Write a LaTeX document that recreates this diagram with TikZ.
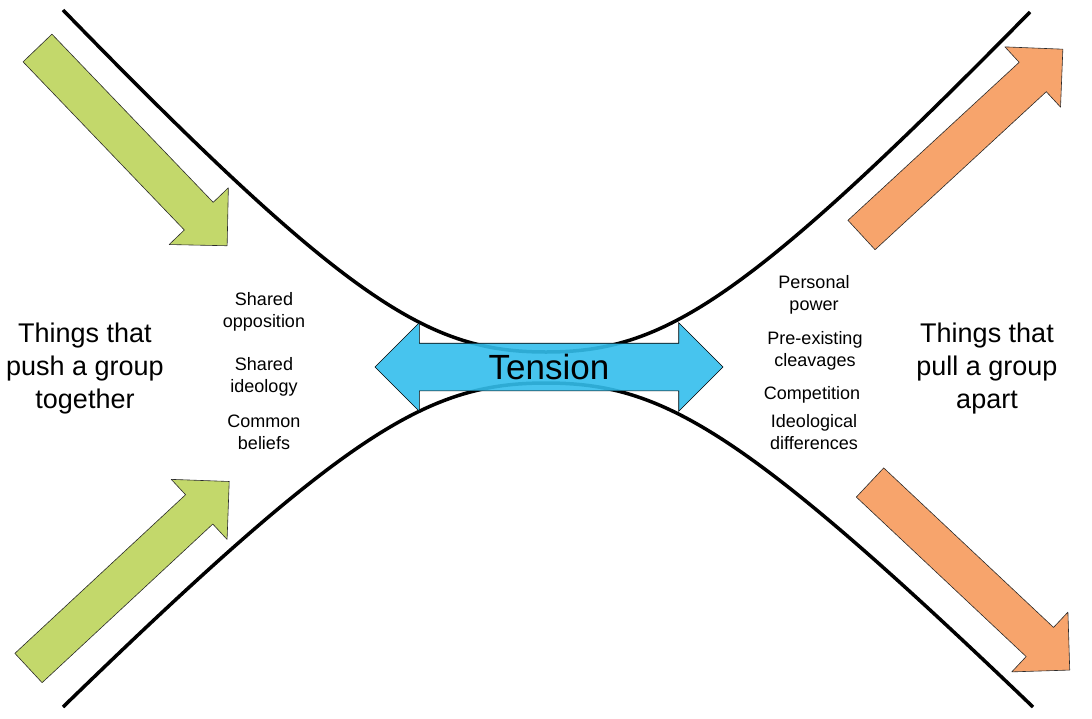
\documentclass[tikz,border=0pt]{standalone}
\usepackage{fontspec}
\setmainfont{Liberation Sans}
\usetikzlibrary{shapes.arrows}
\definecolor{pushcol}{HTML}{C3D86B}
\definecolor{pullcol}{HTML}{F7A46C}
\definecolor{tensioncol}{HTML}{33BEEC}
\definecolor{edgecol}{HTML}{2A2A2A}

\begin{document}
\begin{tikzpicture}[x=1pt, y=-1pt,
  bigtext/.style={align=center, font=\fontsize{27}{33}\selectfont},
  smalltext/.style={align=center, font=\fontsize{18}{22}\selectfont},
  forcearrow/.style={draw=edgecol, line width=0.6pt, line join=round}]

\useasboundingbox (0,0) rectangle (1092,718);

% --- Curves ---
\draw[black, line width=3.5pt]
  (63,10) .. controls (350,305) and (430,352) .. (546,352)
          .. controls (662,352) and (742,305) .. (1030,12);
\draw[black, line width=3.5pt]
  (63,707) .. controls (350,428) and (430,383) .. (546,383)
           .. controls (662,383) and (742,428) .. (1033,707);

% --- Force arrows: tail point, angle, colour ---
\def\shaft{233}
\foreach \tx/\ty/\ang/\col in {37.5/48/-46.2/pushcol, 28.5/668/42.9/pushcol,
                               861.5/235/42.7/pullcol, 870/482.5/-43.2/pullcol}{
  \begin{scope}[shift={(\tx,\ty)}, rotate=\ang]
    \fill[\col] (0,-20) -- (\shaft,-20) -- (\shaft,-41) -- (\shaft+41,0)
      -- (\shaft,41) -- (\shaft,20) -- (0,20) -- cycle;
    \draw[forcearrow] (0,-20) -- (\shaft,-20) -- (\shaft,-41) -- (\shaft+41,0)
      -- (\shaft,41) -- (\shaft,20) -- (0,20) -- cycle;
  \end{scope}
}

% --- Tension ---
\node[double arrow, draw=black, line width=0.6pt, fill=tensioncol,
  fill opacity=0.9, draw opacity=1, text opacity=1,
  minimum height=348pt, double arrow head extend=20.5pt,
  inner xsep=0pt, inner ysep=11pt, text height=25pt, text depth=0pt,
  font=\fontsize{35}{42}\selectfont] (tension) at (549,367) {Tension};

% --- Side labels ---
\node[bigtext] (push) at (85,369) {Things that\\push a group\\together};
\node[bigtext] (pull) at (987,369) {Things that\\pull a group\\apart};

% Left list
\node[smalltext] (opp) at (264,312) {Shared\\opposition};
\node[smalltext] (ideo) at (264,377) {Shared\\ideology};
\node[smalltext] (beliefs) at (264,432) {Common\\beliefs};

% Right list
\node[smalltext] (power) at (814,294.5) {Personal\\power};
\node[smalltext] (cleav) at (815,350.5) {Pre-existing\\cleavages};
\node[smalltext] (compet) at (812,395) {Competition};
\node[smalltext] (differ) at (814,432) {Ideological\\differences};

\end{tikzpicture}
\end{document}
